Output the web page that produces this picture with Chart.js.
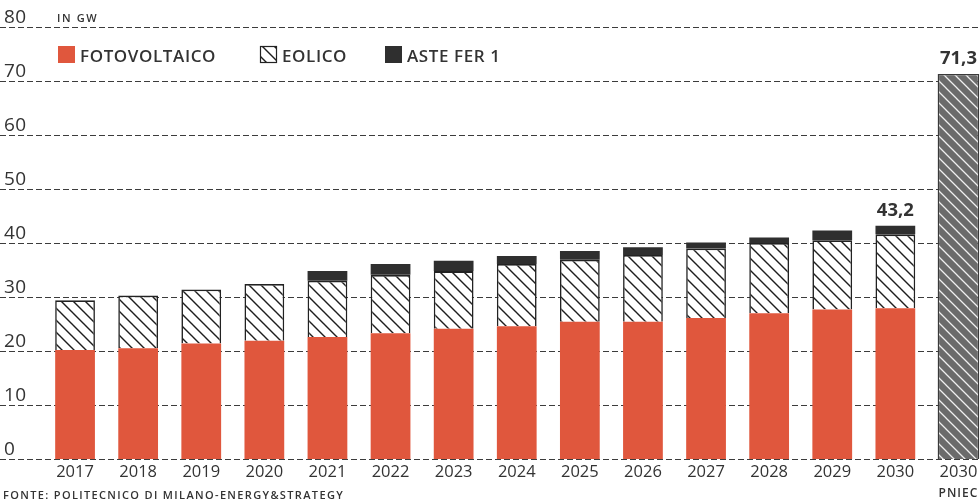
<!DOCTYPE html>
<html>
<head>
<meta charset="utf-8">
<script src="https://cdn.jsdelivr.net/npm/chart.js"></script>
<style>
  html, body { margin: 0; padding: 0; background: #fff; overflow: hidden; }
  #wrap { position: absolute; left: 0; top: 0; width: 990px; height: 504px; }
</style>
</head>
<body>
<div id="wrap"><canvas id="chart" width="990" height="504"></canvas></div>
<script>
// ==================== DATA ====================
const years = ['2017', '2018', '2019', '2020', '2021', '2022', '2023', '2024', '2025', '2026', '2027', '2028', '2029', '2030', '2030'];
const subLabels = ['', '', '', '', '', '', '', '', '', '', '', '', '', '', 'PNIEC'];
const fotovoltaico = [20.2, 20.5, 21.4, 21.9, 22.6, 23.3, 24.1, 24.6, 25.4, 25.4, 26.1, 27.0, 27.7, 27.9, null];
const eolico = [9.2, 9.8, 10.0, 10.5, 10.4, 10.8, 10.7, 11.5, 11.5, 12.4, 12.9, 13.0, 12.8, 13.7, null];
const asteFer1 = [null, null, null, null, 1.8, 2.0, 1.9, 1.5, 1.6, 1.4, 1.1, 1.0, 1.8, 1.6, null];
const pniec = [null, null, null, null, null, null, null, null, null, null, null, null, null, null, 71.3];
const yTicks = [0, 10, 20, 30, 40, 50, 60, 70, 80];
const valueLabels = { 13: '43,2', 14: '71,3' };

const FONT = '"Open Sans", "Noto Sans", sans-serif';
const RED = '#e0573d';
const DARK = '#2f2f2f';
const TEXT = '#333333';

// hatch pattern, lines going "\"
function hatch(bg, fg, lw, size) {
    const c = document.createElement('canvas');
    c.width = size; c.height = size;
    const x = c.getContext('2d');
    x.fillStyle = bg;
    x.fillRect(0, 0, size, size);
    x.strokeStyle = fg;
    x.lineWidth = lw;
    x.beginPath();
    x.moveTo(-2, -2); x.lineTo(size + 2, size + 2);
    x.moveTo(-size - 2, -2); x.lineTo(2, size + 2);
    x.moveTo(size - 2, -2); x.lineTo(2 * size + 2, size + 2);
    x.stroke();
    return x.createPattern(c, 'repeat');
}

const windPattern = hatch('#ffffff', '#1e1e1e', 1.4, 12);
const pniecPattern = hatch('#6b6b6b', '#f0f0f0', 1.3, 11);

// ==================== PLUGIN: grid, labels, legend ====================
const decorPlugin = {
    id: 'decor',
    beforeDatasetsDraw(chart) {
        const ctx = chart.ctx;
        const y = chart.scales.y;
        ctx.save();
        ctx.strokeStyle = '#3c3c3c';
        ctx.lineWidth = 1;
        ctx.setLineDash([6, 3]);
        yTicks.forEach(v => {
            const py = Math.round(y.getPixelForValue(v)) + 0.5;
            ctx.beginPath();
            ctx.moveTo(0, py);
            ctx.lineTo(980, py);
            ctx.stroke();
        });
        ctx.restore();
    },
    afterDatasetsDraw(chart) {
        const ctx = chart.ctx;
        const xs = chart.scales.x;
        const ys = chart.scales.y;
        ctx.save();
        ctx.fillStyle = TEXT;

        // y tick labels, sitting above the gridlines
        ctx.font = '19px ' + FONT;
        ctx.textAlign = 'left';
        ctx.textBaseline = 'alphabetic';
        ctx.letterSpacing = '0.5px';
        yTicks.forEach(v => {
            ctx.fillText(String(v), 4, ys.getPixelForValue(v) - 4);
        });

        // unit
        ctx.font = '600 11px ' + FONT;
        ctx.letterSpacing = '1.6px';
        ctx.fillText('IN GW', 57, 22);

        // x labels
        ctx.letterSpacing = '0px';
        ctx.textAlign = 'center';
        years.forEach((yr, i) => {
            const px = xs.getPixelForValue(i);
            ctx.font = '16.5px ' + FONT;
            ctx.fillText(yr, px, 477);
            if (subLabels[i]) {
                ctx.font = '600 12px ' + FONT;
                ctx.letterSpacing = '1px';
                ctx.fillText(subLabels[i], px, 497);
                ctx.letterSpacing = '0px';
            }
        });

        // value labels
        ctx.font = 'bold 18.5px ' + FONT;
        Object.keys(valueLabels).forEach(k => {
            const i = Number(k);
            let total = 0;
            [fotovoltaico, eolico, asteFer1, pniec].forEach(arr => { total += arr[i] || 0; });
            ctx.fillText(valueLabels[k], xs.getPixelForValue(i), ys.getPixelForValue(total) - 10);
        });

        // source
        ctx.textAlign = 'left';
        ctx.font = '600 11px ' + FONT;
        ctx.letterSpacing = '1.35px';
        ctx.fillText('FONTE: POLITECNICO DI MILANO-ENERGY&STRATEGY', 3, 499);
        ctx.letterSpacing = '0px';

        // legend
        const items = [
            { x: 58, label: 'FOTOVOLTAICO', fill: RED, border: null },
            { x: 260, label: 'EOLICO', fill: windPattern, border: '#222' },
            { x: 385, label: 'ASTE FER 1', fill: DARK, border: null }
        ];
        ctx.font = '600 17px ' + FONT;
        ctx.letterSpacing = '0.6px';
        items.forEach(it => {
            ctx.fillStyle = it.fill;
            ctx.fillRect(it.x, 46, 17, 17);
            if (it.border) {
                ctx.strokeStyle = it.border;
                ctx.lineWidth = 1.2;
                ctx.strokeRect(it.x + 0.5, 46.5, 16, 16);
            }
            ctx.fillStyle = TEXT;
            ctx.fillText(it.label, it.x + 22, 62);
        });
        ctx.restore();
    }
};

// ==================== CHART ====================
new Chart(document.getElementById('chart'), {
    type: 'bar',
    data: {
        labels: years,
        datasets: [
            {
                label: 'FOTOVOLTAICO',
                data: fotovoltaico,
                backgroundColor: RED,
                borderWidth: 0
            },
            {
                label: 'EOLICO',
                data: eolico,
                backgroundColor: windPattern,
                borderColor: '#222222',
                borderWidth: { top: 1.8, left: 1.6, right: 1.6, bottom: 0 }
            },
            {
                label: 'ASTE FER 1',
                data: asteFer1,
                backgroundColor: DARK,
                borderWidth: 0
            },
            {
                label: 'PNIEC',
                data: pniec,
                backgroundColor: pniecPattern,
                borderColor: '#3a3a3a',
                borderWidth: 1.5,
                barPercentage: 0.66
            }
        ]
    },
    options: {
        responsive: false,
        animation: false,
        layout: { padding: { left: 43.5, right: 0, top: 27, bottom: 45 } },
        datasets: {
            bar: { categoryPercentage: 1, barPercentage: 0.63, borderSkipped: 'bottom' }
        },
        plugins: {
            legend: { display: false },
            tooltip: { enabled: false }
        },
        scales: {
            x: { stacked: true, display: false },
            y: { stacked: true, display: false, min: 0, max: 80 }
        }
    },
    plugins: [decorPlugin]
});
</script>
</body>
</html>
